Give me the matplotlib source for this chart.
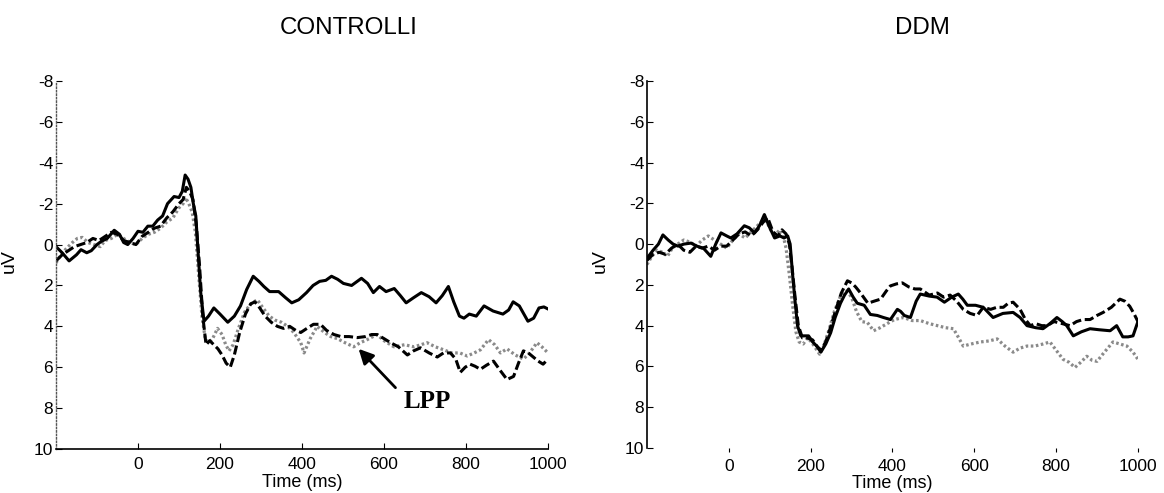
import matplotlib
matplotlib.use('Agg')
import matplotlib.pyplot as plt

# Grand averages, CONTROLLI group (ms, uV)
ctrl_solid_t = [-200, -185, -168, -150, -139, -125, -114, -100, -90, -75,
                -58, -45, -35, -25, -12, 0, 12, 24, 36, 48,
                60, 72, 88, 100, 108, 115, 122, 129, 135, 141,
                147, 153, 161, 172, 185, 200, 219, 235, 250, 265,
                281, 295, 307, 321, 343, 360, 375, 392, 411, 427,
                443, 458, 472, 487, 501, 521, 545, 560, 574, 589,
                605, 625, 640, 654, 672, 691, 710, 727, 742, 757,
                770, 784, 795, 808, 825, 844, 866, 890, 904, 915,
                930, 951, 965, 978, 990, 1000]
ctrl_solid_v = [0.1, 0.4, 0.8, 0.5, 0.25, 0.4, 0.3, 0.0, -0.15, -0.3,
                -0.7, -0.5, -0.1, 0.0, -0.3, -0.65, -0.6, -0.9, -0.9, -1.2,
                -1.4, -2.0, -2.35, -2.3, -2.6, -3.4, -3.2, -2.8, -2.0, -1.4,
                0.5, 2.35, 3.75, 3.5, 3.1, 3.4, 3.8, 3.5, 3.0, 2.2,
                1.55, 1.8, 2.05, 2.3, 2.3, 2.6, 2.85, 2.7, 2.35, 2.0,
                1.8, 1.75, 1.55, 1.7, 1.9, 2.0, 1.65, 1.9, 2.35, 2.05,
                2.3, 2.15, 2.5, 2.85, 2.6, 2.35, 2.55, 2.85, 2.5, 2.05,
                2.8, 3.5, 3.6, 3.4, 3.5, 3.0, 3.25, 3.4, 3.2, 2.8,
                3.0, 3.75, 3.6, 3.1, 3.05, 3.15]

ctrl_dash_t = [-200, -185, -170, -155, -140, -125, -110, -95, -80, -65,
               -50, -35, -20, -5, 10, 25, 40, 55, 70, 85,
               100, 110, 118, 126, 134, 142, 150, 158, 166, 175,
               185, 195, 205, 215, 225, 235, 248, 262, 275, 285,
               297, 310, 325, 340, 355, 370, 385, 397, 412, 428,
               445, 460, 478, 495, 515, 535, 555, 570, 583, 600,
               616, 635, 657, 672, 689, 710, 730, 745, 762, 775,
               786, 798, 810, 822, 835, 850, 867, 885, 900, 916,
               928, 940, 952, 964, 976, 988, 1000]
ctrl_dash_v = [0.8, 0.5, 0.3, 0.1, 0.0, -0.1, -0.3, -0.2, -0.4, -0.6,
               -0.5, -0.2, -0.1, 0.0, -0.4, -0.6, -0.8, -0.9, -1.3, -1.6,
               -2.0, -2.2, -2.8, -2.6, -2.2, -1.0, 1.0, 3.5, 4.9, 4.7,
               4.9, 5.1, 5.4, 5.8, 6.0, 5.4, 4.3, 3.4, 2.9, 2.8,
               3.1, 3.5, 3.8, 4.0, 4.1, 4.0, 4.2, 4.3, 4.1, 3.9,
               3.9, 4.2, 4.4, 4.5, 4.5, 4.55, 4.5, 4.4, 4.4, 4.6,
               4.8, 5.0, 5.4, 5.2, 5.05, 5.3, 5.5, 5.3, 5.3, 5.6,
               6.25, 6.0, 5.85, 5.95, 6.1, 5.9, 5.7, 6.2, 6.6, 6.45,
               5.8, 5.2, 5.3, 5.5, 5.7, 5.85, 5.6]

ctrl_dot_t = [-200, -188, -175, -160, -148, -136, -122, -108, -92, -80,
              -65, -50, -35, -20, -5, 10, 25, 40, 55, 70,
              85, 100, 110, 116, 124, 132, 140, 148, 156, 164,
              172, 182, 194, 205, 214, 222, 232, 245, 260, 275,
              291, 305, 320, 335, 350, 365, 380, 397, 405, 420,
              437, 455, 470, 486, 505, 526, 542, 559, 583, 600,
              624, 650, 673, 690, 705, 725, 746, 765, 785, 803,
              820, 835, 855, 870, 884, 900, 920, 940, 955, 973,
              985, 1000]
ctrl_dot_v = [0.9, 0.5, 0.2, -0.1, -0.3, -0.35, -0.1, 0.0, 0.1, -0.2,
              -0.3, -0.5, -0.3, -0.1, 0.0, -0.3, -0.5, -0.6, -0.8, -1.1,
              -1.3, -1.8, -2.0, -2.3, -2.0, -1.6, -0.6, 1.5, 3.5, 4.6,
              4.8, 4.6, 4.1, 4.4, 4.9, 5.2, 4.9, 4.1, 3.3, 2.9,
              2.7, 3.1, 3.5, 3.7, 3.8, 4.0, 4.3, 4.8, 5.3, 4.6,
              4.0, 4.3, 4.5, 4.6, 4.8, 5.0, 4.8, 4.65, 4.4, 4.7,
              5.0, 4.9, 5.0, 4.9, 4.8, 5.0, 5.15, 5.3, 5.3, 5.45,
              5.3, 5.15, 4.65, 4.9, 5.3, 5.1, 5.4, 5.6, 5.3, 4.8,
              5.0, 5.3]

# Grand averages, DDM group (ms, uV)
ddm_solid_t = [-200, -185, -172, -161, -148, -136, -124, -110, -92, -78,
               -62, -44, -32, -19, -5, 5, 20, 38, 50, 63,
               75, 87, 98, 112, 125, 135, 144, 150, 156, 162,
               168, 176, 185, 195, 205, 215, 225, 237, 249, 260,
               273, 283, 293, 304, 314, 331, 346, 363, 378, 395,
               412, 420, 429, 444, 458, 468, 490, 509, 527, 545,
               561, 572, 583, 603, 622, 634, 646, 670, 695, 712,
               729, 750, 768, 785, 802, 815, 826, 842, 862, 883,
               905, 932, 948, 963, 976, 988, 1000]
ddm_solid_v = [0.7, 0.3, 0.0, -0.45, -0.2, 0.0, 0.1, 0.0, -0.05, 0.1,
               0.2, 0.6, 0.0, -0.55, -0.4, -0.3, -0.5, -0.9, -0.8, -0.55,
               -0.9, -1.45, -0.9, -0.3, -0.4, -0.3, -0.4, 0.0, 1.5, 2.8,
               4.0, 4.5, 4.5, 4.5, 4.8, 5.0, 5.3, 4.9, 4.35, 3.6,
               2.9, 2.5, 2.2, 2.6, 2.9, 3.0, 3.45, 3.5, 3.6, 3.7,
               3.2, 3.3, 3.5, 3.6, 2.8, 2.45, 2.55, 2.6, 2.85, 2.6,
               2.45, 2.7, 3.0, 3.0, 3.1, 3.35, 3.6, 3.4, 3.35, 3.6,
               4.0, 4.1, 4.15, 3.9, 3.6, 3.8, 4.0, 4.5, 4.3, 4.15,
               4.2, 4.25, 4.0, 4.55, 4.55, 4.5, 3.8]

ddm_dash_t = [-200, -185, -170, -155, -140, -125, -110, -95, -80, -65,
              -50, -35, -20, -5, 10, 25, 40, 55, 70, 85,
              95, 108, 120, 130, 140, 148, 155, 162, 170, 180,
              192, 205, 215, 225, 237, 250, 262, 275, 290, 300,
              310, 322, 340, 355, 371, 385, 395, 410, 424, 440,
              455, 468, 490, 510, 525, 541, 557, 573, 590, 607,
              622, 640, 655, 671, 683, 695, 712, 725, 737, 750,
              765, 778, 795, 815, 834, 850, 866, 883, 900, 915,
              935, 956, 968, 980, 990, 1000]
ddm_dash_v = [0.8, 0.5, 0.4, 0.5, 0.2, 0.0, 0.3, 0.4, 0.1, 0.2,
              0.1, 0.3, 0.1, 0.1, -0.2, -0.5, -0.6, -0.4, -0.7, -1.1,
              -1.3, -0.6, -0.4, -0.7, -0.5, 0.0, 1.2, 2.6, 4.0, 4.6,
              4.6, 4.7, 5.0, 5.2, 4.8, 4.0, 3.2, 2.4, 1.8, 1.9,
              2.1, 2.4, 2.9, 2.8, 2.7, 2.3, 2.05, 1.95, 1.9, 2.1,
              2.2, 2.2, 2.5, 2.4, 2.6, 2.5, 2.8, 3.2, 3.4, 3.5,
              3.1, 3.2, 3.1, 3.1, 2.9, 2.85, 3.2, 3.7, 4.0, 3.9,
              4.0, 4.0, 3.8, 3.9, 4.0, 3.8, 3.7, 3.7, 3.5, 3.35,
              3.1, 2.7, 2.8, 3.05, 3.4, 3.8]

ddm_dot_t = [-200, -188, -175, -162, -150, -138, -125, -110, -95, -80,
             -65, -50, -35, -20, -5, 10, 25, 40, 55, 70,
             85, 95, 105, 115, 125, 133, 140, 148, 156, 164,
             172, 182, 192, 202, 212, 222, 232, 245, 258, 272,
             288, 300, 312, 325, 339, 354, 370, 387, 405, 427,
             448, 468, 490, 510, 530, 549, 562, 573, 592, 615,
             636, 656, 675, 695, 712, 729, 748, 768, 785, 800,
             817, 832, 846, 860, 875, 888, 900, 918, 939, 956,
             973, 988, 1000]
ddm_dot_v = [1.0, 0.6, 0.3, 0.4, 0.6, 0.2, 0.0, -0.2, -0.1, 0.1,
             -0.2, -0.4, -0.2, 0.0, 0.2, -0.2, -0.5, -0.3, -0.6, -0.9,
             -1.2, -1.0, -0.6, -0.5, -0.7, -0.4, 0.2, 1.5, 3.0, 4.3,
             4.8, 4.9, 4.6, 4.8, 5.1, 5.4, 5.0, 4.2, 3.3, 2.6,
             2.3, 2.6, 3.3, 3.8, 3.85, 4.25, 4.1, 3.9, 3.7, 3.6,
             3.75, 3.75, 3.9, 4.0, 4.1, 4.15, 4.6, 5.0, 4.9, 4.8,
             4.75, 4.65, 5.0, 5.3, 5.1, 5.0, 5.0, 4.9, 4.8, 5.2,
             5.65, 5.8, 6.05, 5.8, 5.5, 5.7, 5.75, 5.3, 4.8, 4.9,
             5.0, 5.3, 5.65]

x_ticks = [0, 200, 400, 600, 800, 1000]
y_ticks = [-8, -6, -4, -2, 0, 2, 4, 6, 8, 10]
titles = ['CONTROLLI', 'DDM']

plt.rcParams['font.family'] = ['Liberation Sans', 'DejaVu Sans']
plt.rcParams['axes.unicode_minus'] = False  # plain hyphen in tick labels

fig = plt.figure(figsize=(11.64, 4.93), dpi=100)
ax1 = fig.add_axes([0.0481, 0.0892, 0.4227, 0.7465])
ax2 = fig.add_axes([0.5558, 0.0913, 0.4218, 0.7444])

solid = dict(color='black', lw=2.2, ls='-')
dash = dict(color='black', lw=2.2, ls=(0, (3.0, 1.2)))
dot = dict(color='#8a8a8a', lw=2.3, ls=(0, (0.8, 0.8)))

ax1.plot(ctrl_dot_t, ctrl_dot_v, **dot)
ax1.plot(ctrl_dash_t, ctrl_dash_v, **dash)
ax1.plot(ctrl_solid_t, ctrl_solid_v, **solid)

ax2.plot(ddm_dot_t, ddm_dot_v, **dot)
ax2.plot(ddm_dash_t, ddm_dash_v, **dash)
ax2.plot(ddm_solid_t, ddm_solid_v, **solid)

for ax in (ax1, ax2):
    ax.set_xlim(-200, 1000)
    ax.set_ylim(10, -8)  # negative up, EEG convention
    ax.set_xticks(x_ticks)
    ax.set_yticks(y_ticks)
    ax.spines['top'].set_visible(False)
    ax.spines['right'].set_visible(False)
    ax.tick_params(axis='y', direction='in', length=4, pad=2, labelsize=12.5)
    ax.set_xlabel('Time (ms)', fontsize=13, labelpad=1)
    ax.set_ylabel('uV', fontsize=14)
    ax.yaxis.set_label_coords(-0.078, 0.51)

# left panel: dotted y axis, solid time axis
ax1.spines['left'].set_linestyle((0, (1, 1.5)))
ax1.spines['left'].set_color('#555555')
ax1.spines['left'].set_linewidth(1.0)
ax1.spines['bottom'].set_linewidth(1.2)
ax1.tick_params(axis='x', direction='in', length=4, pad=6, labelsize=12.5)

# right panel: no time axis line
ax2.spines['left'].set_linewidth(1.2)
ax2.spines['bottom'].set_visible(False)
ax2.tick_params(axis='x', direction='out', length=3, width=0.8, pad=5, labelsize=12.5)

# LPP marker
ax1.annotate('', xy=(538, 5.1), xytext=(628, 7.0),
             arrowprops=dict(arrowstyle='-|>', color='black', lw=2,
                             mutation_scale=22, shrinkA=0, shrinkB=0))
ax1.text(706, 7.7, 'LPP', fontsize=18, fontweight='bold',
         family='Liberation Serif', ha='center', va='center')

fig.text(0.2995, 0.944, titles[0], fontsize=17.4, ha='center', va='center')
fig.text(0.7925, 0.944, titles[1], fontsize=17.4, ha='center', va='center')

fig.savefig('out.png', dpi=100)
